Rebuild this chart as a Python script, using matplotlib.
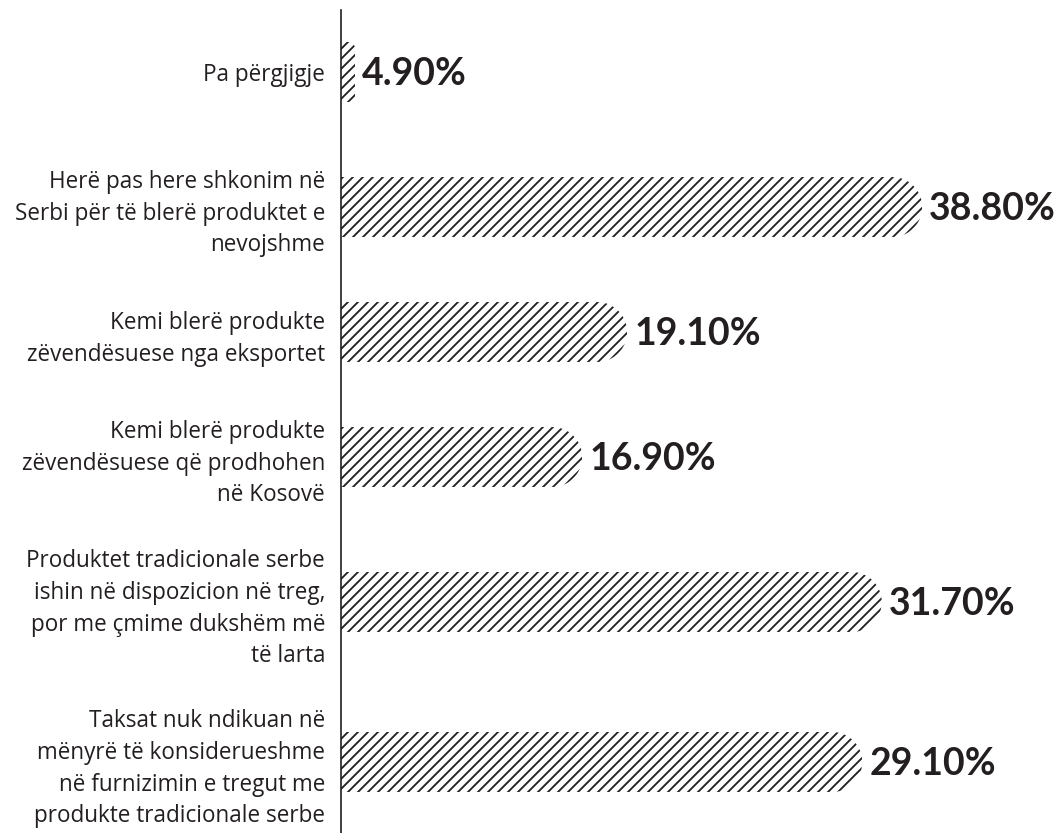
import matplotlib
matplotlib.use("Agg")
import numpy as np
import matplotlib.pyplot as plt
from matplotlib.path import Path
from matplotlib.patches import PathPatch

categories = [
    "Pa përgjigje",
    "Herë pas here shkonim në\nSerbi për të blerë produktet e\nnevojshme",
    "Kemi blerë produkte\nzëvendësuese nga eksportet",
    "Kemi blerë produkte\nzëvendësuese që prodhohen\nnë Kosovë",
    "Produktet tradicionale serbe\nishin në dispozicion në treg,\npor me çmime dukshëm më\ntë larta",
    "Taksat nuk ndikuan në\nmënyrë të konsiderueshme\nnë furnizimin e tregut me\nprodukte tradicionale serbe",
]
values = [4.9, 38.8, 19.1, 16.9, 31.7, 29.1]
# bar lengths as drawn in the source graphic (they don't follow the labels exactly)
bar_len = [0.95, 38.8, 19.1, 16.1, 36.1, 34.8]

ink = '#231f20'
DPI = 60  # hatch cell = 72pt = 60px here, '//' then gives ~10px stripes

plt.rcParams['font.family'] = ['Open Sans', 'DejaVu Sans']
plt.rcParams['hatch.linewidth'] = 2.2

fig = plt.figure(figsize=(1060 / DPI, 833 / DPI), dpi=DPI)
ax = fig.add_axes([341 / 1060, 0, 719 / 1060, 823 / 833])
xmax = 48
ax.set_xlim(0, xmax)
ax.set_ylim(833, 10)
px_per_x = 719 / xmax   # y axis is already in pixels

# row centres (pixels from the top of the image), row gaps are uneven in the original
row_pos = [72, 207, 332, 457, 602, 762]
bar_h = 60

bars = ax.barh(row_pos, bar_len, height=bar_h, color='none',
               edgecolor=ink, linewidth=0, hatch='//')


def rounded_end(x_end, yc, h, r_px):
    # bar outline with a rounded right end, in data units
    rx = r_px / px_per_x
    ry = r_px
    top, bot = yc - h / 2, yc + h / 2
    verts = [(-5, top), (x_end - rx, top)]
    for a in np.linspace(np.pi / 2, 0, 20):
        verts.append((x_end - rx + rx * np.cos(a), top + ry - ry * np.sin(a)))
    verts.append((x_end, bot - ry))
    for a in np.linspace(0, -np.pi / 2, 20):
        verts.append((x_end - rx + rx * np.cos(a), bot - ry - ry * np.sin(a)))
    verts.append((-5, bot))
    verts.append((-5, top))
    return Path(verts, closed=True)


for b, l, y in zip(bars, bar_len, row_pos):
    r = min(bar_h / 2, l * px_per_x / 2)
    clip = PathPatch(rounded_end(l, y, bar_h, r), transform=ax.transData,
                     facecolor='none', edgecolor='none')
    b.set_clip_path(clip)

for v, l, y in zip(values, bar_len, row_pos):
    ax.annotate("{:.2f}%".format(v), xy=(l, y), xytext=(8.5, -2),
                textcoords='offset points', ha='left', va='center',
                fontsize=45, fontweight='bold', color=ink, family=['Lato', 'DejaVu Sans'])

ax.set_yticks(row_pos)
ax.set_yticklabels(categories, fontsize=27, color=ink)
for t in ax.get_yticklabels():
    t.set_linespacing(1.42)
ax.tick_params(axis='y', length=0, pad=19)
ax.set_xticks([])

for s in ['top', 'right', 'bottom']:
    ax.spines[s].set_visible(False)
ax.spines['left'].set_color(ink)
ax.spines['left'].set_linewidth(2.0)
ax.patch.set_alpha(0)

fig.savefig('out.png', dpi=DPI, facecolor='white')
